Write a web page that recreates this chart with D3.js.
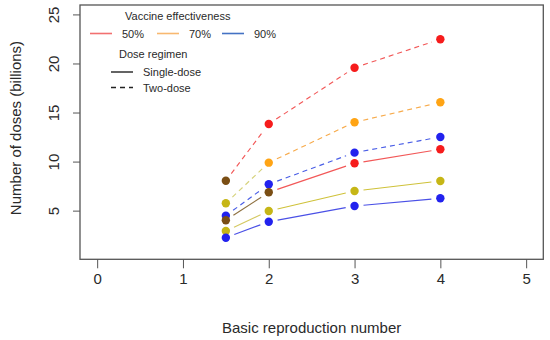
<!DOCTYPE html>
<html>
<head>
<meta charset="utf-8">
<script src="https://cdn.jsdelivr.net/npm/d3@7"></script>
<style>
  body { margin: 0; background: #fff; }
  text { font-family: "Liberation Sans", Arial, sans-serif; fill: #2a2a2a; }
</style>
</head>
<body>
<script>
// Width and height
var w = 550;
var h = 340;

// Data
var r0 = [1.5, 2, 3, 4];
var single50 = [4.02, 6.87, 9.83, 11.25];
var single70 = [2.93, 4.96, 7.0, 8.02];
var single90 = [2.24, 3.87, 5.47, 6.26];
var two50 = [8.05, 13.83, 19.57, 22.47];
var two70 = [5.75, 9.89, 14.01, 16.04];
var two90 = [4.49, 7.69, 10.91, 12.51];
var xTicks = [0, 1, 2, 3, 4, 5];
var yTicks = [5, 10, 15, 20, 25];
var effLabels = ["50%", "70%", "90%"];
var doseLabels = ["Single-dose", "Two-dose"];

// colours (the odd browns / olives at low R0 are as in the picture)
var brown = "#7a4e14", olive = "#c6b616";
var series = [
  { v: two50, dash: true, line: ["#f25858", "#f25858", "#f25858"], pt: [brown, "#f61c1c", "#f61c1c", "#f61c1c"] },
  { v: two70, dash: true, line: ["#d6d27c", "#f7ab4c", "#f7ab4c"], pt: [olive, "#ffa414", "#ffa414", "#ffa414"] },
  { v: two90, dash: true, line: ["#4a5ee6", "#4a5ee6", "#4a5ee6"], pt: ["#2222ee", "#2222ee", "#2222ee", "#2222ee"] },
  { v: single50, dash: false, line: ["#8e7040", "#f25858", "#f25858"], pt: [brown, brown, "#f61c1c", "#f61c1c"] },
  { v: single70, dash: false, line: ["#d4c860", "#cfc23a", "#cfc23a"], pt: [olive, olive, olive, olive] },
  { v: single90, dash: false, line: ["#4a50e6", "#4a50e6", "#4a50e6"], pt: ["#2222ee", "#2222ee", "#2222ee", "#2222ee"] }
];

var svg = d3.select("body")
            .append("svg")
            .attr("width", w)
            .attr("height", h);

// plot box
var boxL = 80, boxR = 543.3, boxT = 5, boxB = 259.3;

var x = d3.scaleLinear().domain([-0.2, 5.2]).range([boxL, boxR]);
var y = d3.scaleLinear().domain([0.04, 25.96]).range([boxB, boxT]);

// x axis
var xAxis = svg.append("g")
    .attr("transform", "translate(0," + boxB + ")")
    .call(d3.axisBottom(x).tickValues(xTicks).tickSize(9).tickPadding(5).tickFormat(d3.format("d")));
xAxis.select(".domain").remove();
xAxis.selectAll("line").attr("stroke", "#555");
xAxis.selectAll("text").attr("font-size", "15px").attr("font-family", "Liberation Sans, Arial, sans-serif").attr("fill", "#2a2a2a");

// y axis
var yAxis = svg.append("g")
    .attr("transform", "translate(" + boxL + ",0)")
    .call(d3.axisLeft(y).tickValues(yTicks).tickSize(7).tickFormat(d3.format("d")));
yAxis.select(".domain").remove();
yAxis.selectAll("line").attr("stroke", "#555");
yAxis.selectAll("text")
    .attr("font-size", "15px")
    .attr("font-family", "Liberation Sans, Arial, sans-serif")
    .attr("fill", "#2a2a2a")
    .attr("text-anchor", "middle")
    .attr("x", 0).attr("dy", null).attr("y", 0)
    .attr("transform", "translate(-21,0) rotate(-90)");

// box
svg.append("rect")
   .attr("x", boxL).attr("y", boxT)
   .attr("width", boxR - boxL).attr("height", boxB - boxT)
   .attr("fill", "none")
   .attr("stroke", "#555")
   .attr("stroke-width", 1.3);

// axis titles
svg.append("text")
   .attr("x", (boxL + boxR) / 2).attr("y", 332.5)
   .attr("text-anchor", "middle")
   .attr("font-size", "15px")
   .text("Basic reproduction number");

svg.append("text")
   .attr("transform", "translate(21,128) rotate(-90)")
   .attr("text-anchor", "middle")
   .attr("font-size", "15px")
   .text("Number of doses (billions)");

// lines, type = "b" so they stop short of the points
var gap = 9;
series.forEach(function(s) {
  var segs = [];
  for (var i = 0; i < r0.length - 1; i++) {
    var x1 = x(r0[i]), y1 = y(s.v[i]), x2 = x(r0[i + 1]), y2 = y(s.v[i + 1]);
    var len = Math.sqrt((x2 - x1) * (x2 - x1) + (y2 - y1) * (y2 - y1));
    var ux = (x2 - x1) / len, uy = (y2 - y1) / len;
    segs.push({ x1: x1 + ux * gap, y1: y1 + uy * gap, x2: x2 - ux * gap, y2: y2 - uy * gap, c: s.line[i] });
  }
  svg.append("g").selectAll("line")
     .data(segs)
     .enter()
     .append("line")
     .attr("x1", function(d) { return d.x1; })
     .attr("y1", function(d) { return d.y1; })
     .attr("x2", function(d) { return d.x2; })
     .attr("y2", function(d) { return d.y2; })
     .attr("stroke", function(d) { return d.c; })
     .attr("stroke-width", 1.15)
     .attr("stroke-dasharray", s.dash ? "5,4" : null);
});

// points
series.forEach(function(s) {
  svg.append("g").selectAll("circle")
     .data(s.v)
     .enter()
     .append("circle")
     .attr("cx", function(d, i) { return x(r0[i]); })
     .attr("cy", function(d) { return y(d); })
     .attr("r", 4.2)
     .attr("fill", function(d, i) { return s.pt[i]; });
});

// legend
var lg = svg.append("g").attr("font-size", "11px");
lg.append("text").attr("x", 125).attr("y", 20).attr("font-size", "11px").text("Vaccine effectiveness");
var effCols = ["#f27070", "#f8b870", "#4472c4"];
var effX = [90, 157, 222];
effLabels.forEach(function(l, i) {
  lg.append("line")
    .attr("x1", effX[i]).attr("x2", effX[i] + 22)
    .attr("y1", 33.5).attr("y2", 33.5)
    .attr("stroke", effCols[i]).attr("stroke-width", 1.6);
  lg.append("text").attr("x", effX[i] + 32).attr("y", 37.5).attr("font-size", "11px").text(l);
});
lg.append("text").attr("x", 119).attr("y", 57.5).attr("font-size", "11px").text("Dose regimen");
doseLabels.forEach(function(l, i) {
  var yy = 72 + i * 15.5;
  lg.append("line")
    .attr("x1", 111).attr("x2", 133)
    .attr("y1", yy).attr("y2", yy)
    .attr("stroke", "#222").attr("stroke-width", 1.4)
    .attr("stroke-dasharray", i === 1 ? "5,4" : null);
  lg.append("text").attr("x", 143).attr("y", yy + 4).attr("font-size", "11px").text(l);
});
</script>
</body>
</html>
